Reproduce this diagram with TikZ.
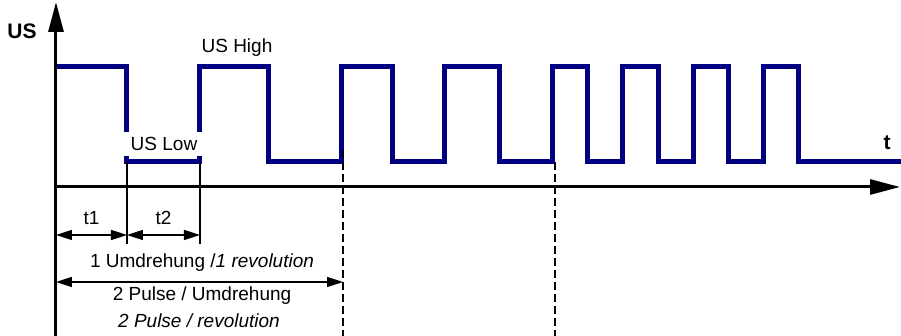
\documentclass[tikz,border=0pt]{standalone}
\usepackage{fontspec}
\setmainfont{Liberation Sans}
\usetikzlibrary{arrows.meta}
\definecolor{navy}{RGB}{0,0,128}
\begin{document}
\begin{tikzpicture}[x=5pt,y=5pt,
    sig/.style={line width=2.5pt,navy},
    axis/.style={line width=1.5pt,-{Triangle[length=15pt,width=7.5pt]}},
    dim/.style={line width=.8pt,{Triangle[length=8pt,width=5pt]}-{Triangle[length=8pt,width=5pt]}},
    guide/.style={line width=.8pt},
    cut/.style={line width=.9pt,dash pattern=on 4pt off 2pt},
    lbl/.style={font=\fontsize{9.5}{11}\selectfont,inner sep=1pt},
    big/.style={font=\fontsize{10.5}{12}\selectfont\bfseries,inner sep=1pt}]
  \useasboundingbox (-5.6,-14.9) rectangle (84.5,18.7);
  % pulse train
  \draw[sig] (0,12) -| (7.1,2.5) -| (14.4,12) -| (21.2,2.5) -| (28.5,12)
  -| (33.6,2.5) -| (38.8,12) -| (44.3,2.5) -| (49.6,12) -| (53.1,2.5)
  -| (56.6,12) -| (60.2,2.5) -| (63.7,12) -| (67.2,2.5) -| (70.7,12)
  -| (74.2,2.5) -- (84.6,2.5);
  % axes
  \draw[axis] (0,-14.9) -- (0,18.5); \draw[axis] (0,0) -- (84.4,0);
  \node[big] (us) at (-3.4,15.6) {US}; \node[big] (t) at (83.1,4.4) {t};
  \node[lbl] (high) at (18.1,13.9) {US High};
  \node[lbl,fill=white,inner xsep=3.3pt,inner ysep=2.8pt] (low) at (10.8,4.3) {US Low};
  % guides
  \draw[guide] (7.1,2.5) -- (7.1,-5.7); \draw[guide] (14.4,2.5) -- (14.4,-5.7);
  \draw[cut] (28.7,3.7) -- (28.7,-14.9); \draw[cut] (49.9,2.5) -- (49.9,-14.9);
  % dimensions
  \coordinate (d0) at (0,-4.8); \coordinate (d1) at (7.1,-4.8); \coordinate (d2) at (14.4,-4.8);
  \draw[dim] (d0) -- (d1); \draw[dim] (d1) -- (d2);
  \node[lbl] (t1) at (3.55,-3.1) {t1}; \node[lbl] (t2) at (10.75,-3.1) {t2};
  \coordinate (r0) at (0,-9.5); \coordinate (r1) at (28.7,-9.5);
  \draw[dim] (r0) -- (r1);
  \node[lbl] (rev) at (14.6,-7.6) {1 Umdrehung /\textit{1 revolution}};
  \node[lbl] (pde) at (14.6,-10.9) {2 Pulse / Umdrehung};
  \node[lbl] (pen) at (14.3,-13.4) {\textit{2 Pulse / revolution}};
\end{tikzpicture}
\end{document}
